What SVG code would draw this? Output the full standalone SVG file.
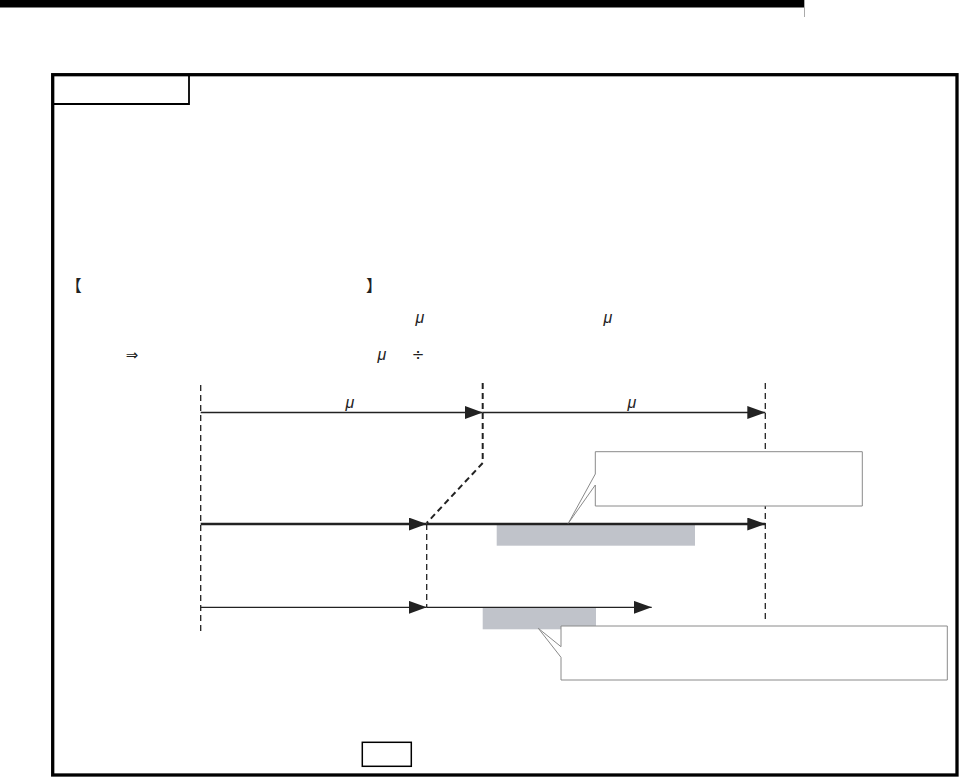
<svg xmlns="http://www.w3.org/2000/svg" width="959" height="777" viewBox="0 0 959 777">
  <style>
    .sym { font-family: "Liberation Sans", "DejaVu Sans", sans-serif; font-size: 16px; fill: #222; }
    .op { font-family: "DejaVu Sans", sans-serif; font-size: 15px; fill: #222; }
    .br { font-family: "Noto Sans CJK SC", sans-serif; font-size: 16px; fill: #222; }
    .mu { font-style: italic; }
    .dash { fill: none; stroke: #222; stroke-dasharray: 6 4; }
    .arr { fill: none; stroke: #222; }
    .grey { fill: #c0c3ca; }
    .callout { fill: #fff; stroke: #8a8a8a; stroke-width: 1; }
  </style>
  <defs>
    <marker id="ah" markerUnits="userSpaceOnUse" markerWidth="20" markerHeight="14" refX="18" refY="6.5" orient="auto">
      <path d="M0,0 L18,6.5 L0,13 Z" fill="#222"/>
    </marker>
  </defs>
  <rect x="0" y="0" width="804" height="7.5" fill="#000"/>
  <line x1="804.5" y1="0" x2="804.5" y2="17" stroke="#aaa" stroke-width="1"/>
  <g id="frame">
    <rect x="52.7" y="74.7" width="904.3" height="700.3" fill="none" stroke="#000" stroke-width="3.3"/>
    <path d="M52.7,104 H189 V74.7" fill="none" stroke="#000" stroke-width="1.8"/>
  </g>
  <g id="texts">
    <text class="br" x="73.7" y="291" text-anchor="middle">【</text>
    <text class="br" x="374" y="291" text-anchor="middle">】</text>
    <text class="sym mu" x="420" y="323" text-anchor="middle">μ</text>
    <text class="sym mu" x="608" y="323" text-anchor="middle">μ</text>
    <text class="op" x="132" y="360" text-anchor="middle">⇒</text>
    <text class="sym mu" x="382" y="360" text-anchor="middle">μ</text>
    <text class="op" x="418" y="360" text-anchor="middle">÷</text>
    <text class="sym mu" x="350" y="408" text-anchor="middle">μ</text>
    <text class="sym mu" x="632" y="408" text-anchor="middle">μ</text>
  </g>
  <g id="bar1"><rect class="grey" x="496.7" y="524.5" width="198.3" height="21.2"/></g>
  <g id="bar2"><rect class="grey" x="482.7" y="607.8" width="113.3" height="21.5"/></g>
  <g id="connectors">
    <line class="dash" x1="200.7" y1="385" x2="200.7" y2="632" stroke-width="1.3"/>
    <line class="dash" x1="765.3" y1="383" x2="765.3" y2="619" stroke-width="1.3"/>
    <path class="dash" d="M482.7,383 V463 L426.7,523" stroke-width="2"/>
    <line class="dash" x1="426.7" y1="524" x2="426.7" y2="607" stroke-width="1.3"/>
    <line class="arr" x1="200.7" y1="412.5" x2="482.7" y2="412.5" stroke-width="1.3" marker-end="url(#ah)"/>
    <line class="arr" x1="482.7" y1="412.5" x2="765.3" y2="412.5" stroke-width="1.3" marker-end="url(#ah)"/>
    <line class="arr" x1="200.7" y1="524" x2="426.7" y2="524" stroke-width="2.4" marker-end="url(#ah)"/>
    <line class="arr" x1="426.7" y1="524" x2="765.3" y2="524" stroke-width="2.4" marker-end="url(#ah)"/>
    <line class="arr" x1="200.7" y1="607.3" x2="426.7" y2="607.3" stroke-width="1.3" marker-end="url(#ah)"/>
    <line class="arr" x1="426.7" y1="607.3" x2="651.7" y2="607.3" stroke-width="1.3" marker-end="url(#ah)"/>
  </g>
  <g id="callout1"><path class="callout" d="M595.3,451.7 H862.3 V506 H595.3 V485 L568.3,523.3 L595.3,474 Z"/></g>
  <g id="callout2"><path class="callout" d="M561,626 H947.3 V680 H561 V657.3 L538.3,628.3 L561,646.7 Z"/></g>
  <g id="smallbox"><rect x="362.3" y="742.3" width="49" height="24" fill="none" stroke="#000" stroke-width="1.5"/></g>
</svg>
